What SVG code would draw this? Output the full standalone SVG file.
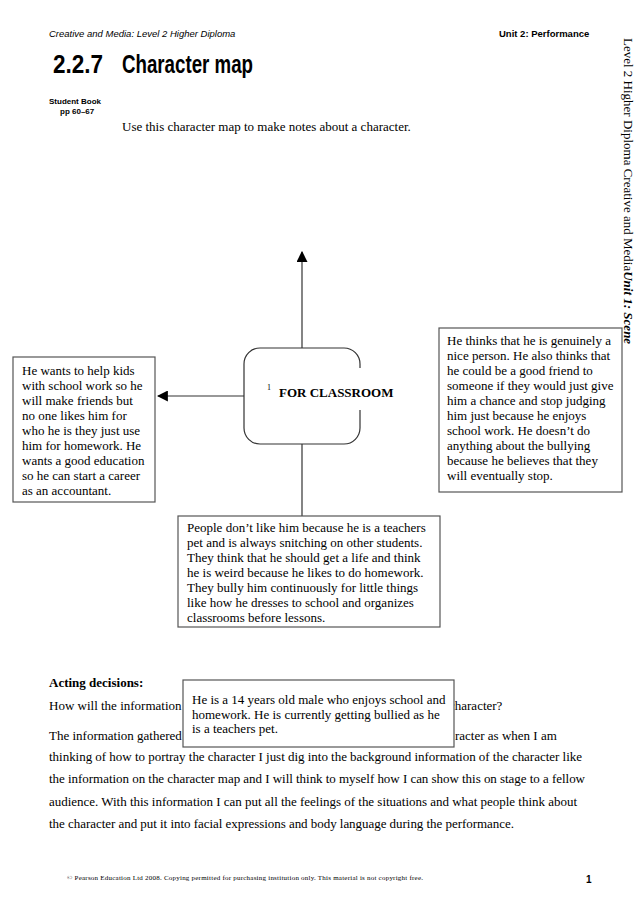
<svg xmlns="http://www.w3.org/2000/svg" width="638" height="903" viewBox="0 0 638 903">
<style>
.hdr{font-family:"Liberation Sans",Arial,sans-serif;font-size:9.5px;fill:#000}
.tm{font-family:"Liberation Serif","Times New Roman",serif;font-size:13px;fill:#000}
.box{fill:#fff;stroke:#555;stroke-width:1.2}
.ln{stroke:#333;stroke-width:1.2;fill:none}
</style>
<defs>
<marker id="ah" viewBox="0 0 10 10" refX="9" refY="5" markerWidth="11" markerHeight="11" markerUnits="userSpaceOnUse" orient="auto">
<path d="M0,0 L10,5 L0,10 Z" fill="#000"/>
</marker>
</defs>
<rect width="638" height="903" fill="#fff"/>
<!-- header -->
<text class="hdr" x="49" y="37" font-style="italic">Creative and Media: Level 2 Higher Diploma</text>
<text class="hdr" x="499" y="37" font-weight="bold">Unit 2: Performance</text>
<text x="53" y="73" font-family="'Liberation Sans',Arial,sans-serif" font-weight="bold" font-size="25" textLength="50" lengthAdjust="spacingAndGlyphs">2.2.7</text>
<text x="122" y="73" font-family="'Liberation Sans',Arial,sans-serif" font-weight="bold" font-size="25" textLength="131" lengthAdjust="spacingAndGlyphs">Character map</text>
<text x="49" y="104" font-family="'Liberation Sans',Arial,sans-serif" font-weight="bold" font-size="8">Student Book</text>
<text x="60" y="113.5" font-family="'Liberation Sans',Arial,sans-serif" font-weight="bold" font-size="8">pp 60–67</text>
<text class="tm" x="122" y="131">Use this character map to make notes about a character.</text>
<text class="tm" transform="translate(624,38) rotate(90)">Level 2 Higher Diploma Creative and Media<tspan font-weight="bold" font-style="italic">Unit 1: Scene</tspan></text>
<!-- connectors -->
<g id="connectors">
<line class="ln" x1="302" y1="348" x2="302" y2="252" marker-end="url(#ah)"/>
<line class="ln" x1="244" y1="396" x2="158" y2="396" marker-end="url(#ah)"/>
<line class="ln" x1="302" y1="444" x2="302" y2="516"/>
</g>
<!-- center node -->
<g id="center">
<rect x="244" y="348" width="116" height="96" rx="16" ry="16" fill="#fff" stroke="#333" stroke-width="1.2"/>
<rect x="262" y="368" width="131" height="42" fill="#fff"/>
<text x="267" y="390" font-family="'Liberation Serif',serif" font-size="8">1</text>
<text class="tm" x="279" y="397" font-weight="bold">FOR CLASSROOM</text>
</g>
<g id="left-node">
<rect class="box" x="13" y="357" width="142" height="145"/>
<text class="tm" x="22" y="375">He wants to help kids</text>
<text class="tm" x="22" y="390">with school work so he</text>
<text class="tm" x="22" y="405">will make friends but</text>
<text class="tm" x="22" y="420">no one likes him for</text>
<text class="tm" x="22" y="435">who he is they just use</text>
<text class="tm" x="22" y="450">him for homework. He</text>
<text class="tm" x="22" y="465">wants a good education</text>
<text class="tm" x="22" y="480">so he can start a career</text>
<text class="tm" x="22" y="495">as an accountant.</text>
</g>
<g id="right-node">
<rect class="box" x="439" y="328" width="183" height="164"/>
<text class="tm" x="447" y="345">He thinks that he is genuinely a</text>
<text class="tm" x="447" y="360">nice person. He also thinks that</text>
<text class="tm" x="447" y="375">he could be a good friend to</text>
<text class="tm" x="447" y="390">someone if they would just give</text>
<text class="tm" x="447" y="405">him a chance and stop judging</text>
<text class="tm" x="447" y="420">him just because he enjoys</text>
<text class="tm" x="447" y="435">school work. He doesn’t do</text>
<text class="tm" x="447" y="450">anything about the bullying</text>
<text class="tm" x="447" y="465">because he believes that they</text>
<text class="tm" x="447" y="480">will eventually stop.</text>
</g>
<g id="bottom-node">
<rect class="box" x="178" y="516" width="262" height="111"/>
<text class="tm" x="187" y="532">People don’t like him because he is a teachers</text>
<text class="tm" x="187" y="547">pet and is always snitching on other students.</text>
<text class="tm" x="187" y="562">They think that he should get a life and think</text>
<text class="tm" x="187" y="577">he is weird because he likes to do homework.</text>
<text class="tm" x="187" y="592">They bully him continuously for little things</text>
<text class="tm" x="187" y="607">like how he dresses to school and organizes</text>
<text class="tm" x="187" y="622">classrooms before lessons.</text>
</g>
<!-- acting decisions -->
<text class="tm" x="49" y="687" font-weight="bold">Acting decisions:</text>
<text class="tm" x="49" y="710">How will the information</text>
<text class="tm" x="449" y="710">character?</text>
<text class="tm" x="49" y="740">The information gathered</text>
<text class="tm" x="455" y="740">racter as when I am</text>
<text class="tm" x="49" y="761" textLength="533" lengthAdjust="spacing">thinking of how to portray the character I just dig into the background information of the character like</text>
<text class="tm" x="49" y="783" textLength="536" lengthAdjust="spacing">the information on the character map and I will think to myself how I can show this on stage to a fellow</text>
<text class="tm" x="49" y="806" textLength="528" lengthAdjust="spacing">audience. With this information I can put all the feelings of the situations and what people think about</text>
<text class="tm" x="49" y="828" textLength="465" lengthAdjust="spacing">the character and put it into facial expressions and body language during the performance.</text>
<g id="age-node">
<rect class="box" x="183" y="680" width="271" height="67"/>
<text class="tm" x="192" y="704">He is a 14 years old male who enjoys school and</text>
<text class="tm" x="192" y="718.5">homework. He is currently getting bullied as he</text>
<text class="tm" x="192" y="733">is a teachers pet.</text>
</g>
<!-- footer -->
<text x="67" y="880" font-family="'Liberation Serif',serif" font-size="7" textLength="356" lengthAdjust="spacing">© Pearson Education Ltd 2008. Copying permitted for purchasing institution only. This material is not copyright free.</text>
<text x="586" y="883" font-family="'Liberation Sans',Arial,sans-serif" font-weight="bold" font-size="10">1</text>
</svg>
